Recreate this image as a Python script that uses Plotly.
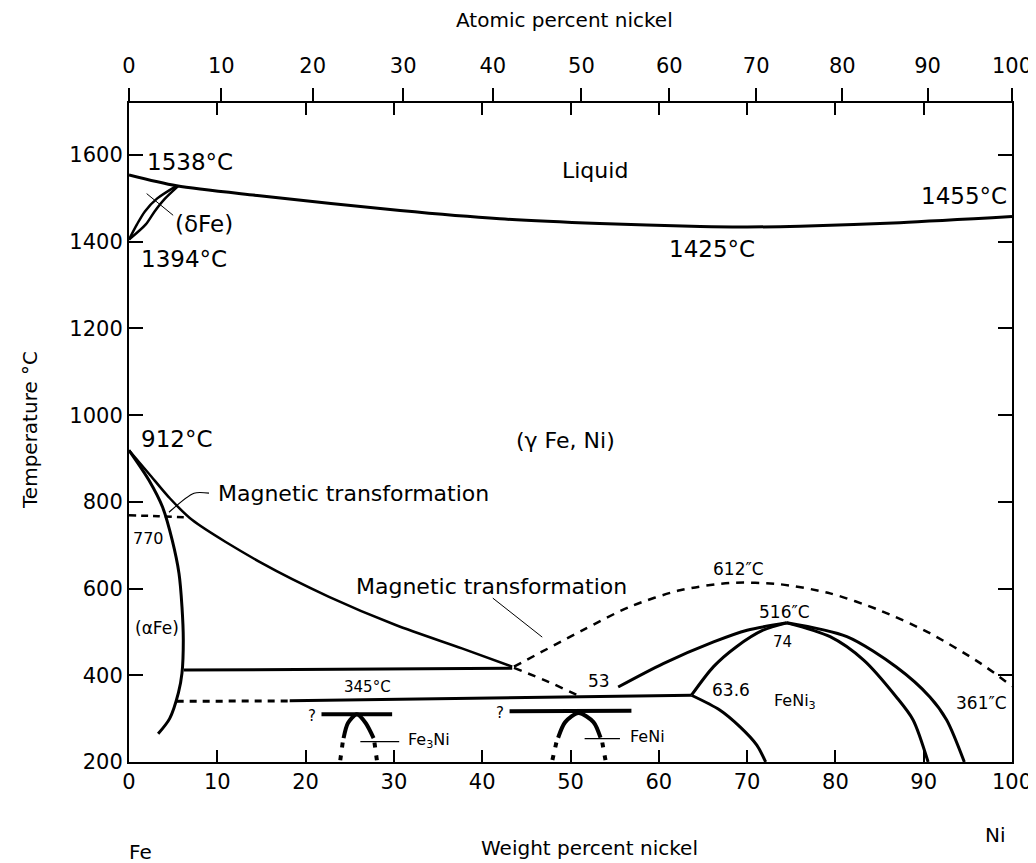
import plotly.graph_objects as go

# ---------------- data (weight % Ni, temperature °C) ----------------
liq_x = [0, 5.4, 14.8, 30.7, 42, 53.3, 64.7, 70, 76, 87.3, 100]
liq_t = [1554, 1529, 1506, 1472, 1453, 1442, 1435, 1434, 1436, 1444, 1458]

delta_a_x = [0, 0.9, 1.8, 3.2, 5.4]
delta_a_t = [1405, 1440, 1470, 1500, 1529]
delta_b_x = [0, 1.9, 2.9, 4.1, 5.6]
delta_b_t = [1405, 1440, 1470, 1500, 1529]

alpha_x = [0, 2.26, 3.8, 4.9, 5.66, 6.0, 6.15, 6.0, 5.6, 4.6, 3.3]
alpha_t = [919, 850, 788, 711, 635, 558, 481, 405, 360, 300, 265]

gamma_x = [0, 2.26, 4.5, 7.17, 15.1, 22.65, 30.2, 37.7, 43.4]
gamma_t = [919, 865, 811, 758, 658, 581, 516, 462, 420]

mag770_x = [0, 3.3, 6.6]
mag770_t = [769, 767, 764]

iso415_x = [6.2, 43.4]
iso415_t = [412, 416]

iso345_dash_x = [5.4, 18.2]
iso345_dash_t = [340, 341]
iso345_x = [18.2, 63.7]
iso345_t = [341, 354]

magcurve_x = [43.6, 51.4, 56.7, 62.4, 68.1, 73.7, 79.4, 85, 90.7, 96.4, 100]
magcurve_t = [420, 504, 558, 596, 613, 610, 589, 550, 497, 428, 375]

magdown_x = [43.6, 47.5, 51]
magdown_t = [417, 385, 352]

ord53_x = [55.4, 60.5, 66.2, 70, 74.5]
ord53_t = [373, 427, 477, 504, 521]

ord636_up_x = [63.7, 66.2, 68.8, 71.8, 74.5]
ord636_up_t = [354, 420, 466, 504, 521]

ord636_dn_x = [63.7, 66.9, 69.2, 71.1, 72.1]
ord636_dn_t = [354, 320, 281, 239, 200]

ord_in_x = [74.5, 79.4, 83.2, 86.9, 88.8, 90.5]
ord_in_t = [521, 489, 435, 350, 297, 200]

ord_out_x = [74.5, 81.3, 86.9, 90.7, 92.6, 94.6]
ord_out_t = [521, 489, 419, 350, 297, 200]

fe3ni_bar_x = [21.8, 29.8]
fe3ni_bar_t = [310, 310]
fe3ni_arch_x = [24.3, 24.8, 25.8, 26.8, 27.7]
fe3ni_arch_t = [255, 290, 310, 290, 255]
fe3ni_leg1_x = [24.2, 23.9]
fe3ni_leg1_t = [245, 200]
fe3ni_leg2_x = [27.8, 28.1]
fe3ni_leg2_t = [245, 200]

feni_bar_x = [43.1, 56.9]
feni_bar_t = [317, 318]
feni_arch_x = [48.6, 49.4, 50.9, 52.6, 53.4]
feni_arch_t = [256, 292, 313, 292, 256]
feni_leg1_x = [48.4, 47.9]
feni_leg1_t = [245, 200]
feni_leg2_x = [53.6, 54.0]
feni_leg2_t = [245, 200]

leader_delta_x = [2.0, 5.0]
leader_delta_t = [1511, 1461]
leader_mag1_x = [9.06, 7.36, 4.53]
leader_mag1_t = [820, 820, 776]
leader_mag2_x = [41.2, 46.8]
leader_mag2_t = [578, 488]
leader_fe3ni_x = [26.2, 30.6]
leader_fe3ni_t = [247, 247]
leader_feni_x = [51.6, 55.6]
leader_feni_t = [254, 254]

wt_ticks = [0, 10, 20, 30, 40, 50, 60, 70, 80, 90, 100]
temp_ticks = [200, 400, 600, 800, 1000, 1200, 1400, 1600]
at_ticks = [0, 10, 20, 30, 40, 50, 60, 70, 80, 90, 100]
M_FE, M_NI = 55.845, 58.693

# labels: text, x, T, size
labels_txt = ["1538°C", "(δFe)", "1394°C", "Liquid", "1455°C", "1425°C",
              "(γ Fe, Ni)", "912°C", "770", "612″C", "516″C", "74", "53",
              "63.6", "FeNi<sub>3</sub>", "361″C", "345°C", "(αFe)", "?", "?",
              "Fe<sub>3</sub>Ni", "FeNi",
              "Magnetic transformation", "Magnetic transformation"]
labels_x = [6.9, 8.5, 6.2, 52.8, 94.6, 66.0, 49.4, 5.4, 2.26, 69.0, 74.2, 74.0,
            53.2, 68.2, 75.4, 96.5, 27.0, 3.2, 20.7, 42.0, 34.0, 58.7,
            25.4, 41.0]
labels_t = [1583, 1441, 1361, 1564, 1506, 1384, 942, 944, 716, 645, 546, 477,
            387, 366, 340, 335, 373, 509, 306, 312, 250, 258,
            820, 604]
labels_size = [23, 23, 23, 22, 23, 23, 22, 23, 16, 17, 17, 15, 17, 17, 16,
               17, 15, 17, 15, 15, 16, 16,
               22, 22]

# ---------------- figure ----------------
fig = go.Figure()
BLACK = "black"


def add_line(x, y, width=3, dash="solid"):
    fig.add_trace(go.Scatter(x=x, y=y, mode="lines", showlegend=False,
                             hoverinfo="skip",
                             line=dict(color=BLACK, width=width, dash=dash,
                                       shape="spline", smoothing=0.8)))


add_line(liq_x, liq_t, 3)
add_line(delta_a_x, delta_a_t, 2.5)
add_line(delta_b_x, delta_b_t, 2.5)
add_line(alpha_x, alpha_t, 3)
add_line(gamma_x, gamma_t, 2.5)
add_line(mag770_x, mag770_t, 2.5, "7px,5px")
add_line(iso415_x, iso415_t, 3)
add_line(iso345_dash_x, iso345_dash_t, 3, "7px,6px")
add_line(iso345_x, iso345_t, 3)
add_line(magcurve_x, magcurve_t, 2.5, "8px,7px")
add_line(magdown_x, magdown_t, 2.5, "8px,7px")
add_line(ord53_x, ord53_t, 3)
add_line(ord636_up_x, ord636_up_t, 3)
add_line(ord636_dn_x, ord636_dn_t, 3)
add_line(ord_in_x, ord_in_t, 3)
add_line(ord_out_x, ord_out_t, 3)
add_line(fe3ni_bar_x, fe3ni_bar_t, 4)
add_line(fe3ni_arch_x, fe3ni_arch_t, 4)
add_line(fe3ni_leg1_x, fe3ni_leg1_t, 4, "5px,8px")
add_line(fe3ni_leg2_x, fe3ni_leg2_t, 4, "5px,8px")
add_line(feni_bar_x, feni_bar_t, 4)
add_line(feni_arch_x, feni_arch_t, 4)
add_line(feni_leg1_x, feni_leg1_t, 4, "5px,8px")
add_line(feni_leg2_x, feni_leg2_t, 4, "5px,8px")
add_line(leader_delta_x, leader_delta_t, 1)
add_line(leader_mag1_x, leader_mag1_t, 1.2)
add_line(leader_mag2_x, leader_mag2_t, 1)
add_line(leader_fe3ni_x, leader_fe3ni_t, 1.2)
add_line(leader_feni_x, leader_feni_t, 1.2)

# invisible trace on top axis
fig.add_trace(go.Scatter(x=[0, 100], y=[200, 200], xaxis="x2", mode="lines",
                         line=dict(width=0), showlegend=False, hoverinfo="skip"))

FONT = "DejaVu Sans, Liberation Sans, Arial, sans-serif"
annotations = []
for txt, x, t, s in zip(labels_txt, labels_x, labels_t, labels_size):
    annotations.append(dict(x=x, y=t, xref="x", yref="y", text=txt, showarrow=False,
                            font=dict(size=s, color=BLACK, family=FONT)))


def paper_label(text, x, y, size=20, angle=0):
    return dict(x=x, y=y, xref="paper", yref="paper", text=text, textangle=angle,
                showarrow=False, xanchor="center", yanchor="middle",
                font=dict(size=size, color=BLACK, family=FONT))


# axis titles / end labels
annotations += [
    paper_label("Atomic percent nickel", 0.493, 1.126),
    paper_label("Temperature °C", -0.112, 0.504, 20, -90),
    paper_label("Weight percent nickel", 0.522, -0.1305),
    paper_label("Fe", 0.0125, -0.1366),
    paper_label("Ni", 0.981, -0.111),
]

at_pos = [a * M_NI / (a * M_NI + (100 - a) * M_FE) * 100 for a in at_ticks]

# page body has an 8px margin: shrink/shift the figure to compensate
fig.update_layout(
    width=1028, height=855,
    margin=dict(l=121, r=24, t=95, b=101),
    paper_bgcolor="white", plot_bgcolor="white",
    font=dict(family=FONT, color=BLACK),
    showlegend=False,
    annotations=annotations,
    xaxis=dict(range=[0, 100], tickvals=wt_ticks, ticktext=[str(v) for v in wt_ticks],
               ticks="inside", ticklen=12, tickwidth=1.5, tickcolor=BLACK,
               showline=True, linewidth=2, linecolor=BLACK, mirror="ticks",
               showgrid=False, zeroline=False, automargin=False,
               tickfont=dict(size=21, color=BLACK, family=FONT)),
    xaxis2=dict(range=[0, 100], overlaying="x", side="top", anchor="y",
                tickvals=at_pos, ticktext=[str(v) for v in at_ticks],
                ticks="outside", ticklen=14, tickwidth=1.5, tickcolor=BLACK,
                ticklabelstandoff=7, automargin=False,
                showline=False, showgrid=False, zeroline=False,
                tickfont=dict(size=21, color=BLACK, family=FONT)),
    yaxis=dict(range=[200, 1720], tickvals=temp_ticks,
               ticktext=[str(v) for v in temp_ticks],
               ticks="inside", ticklen=14, tickwidth=1.5, tickcolor=BLACK,
               showline=True, linewidth=2, linecolor=BLACK, mirror="ticks",
               showgrid=False, zeroline=False, automargin=False,
               tickfont=dict(size=21, color=BLACK, family=FONT)),
)

fig.write_html("out.html")
